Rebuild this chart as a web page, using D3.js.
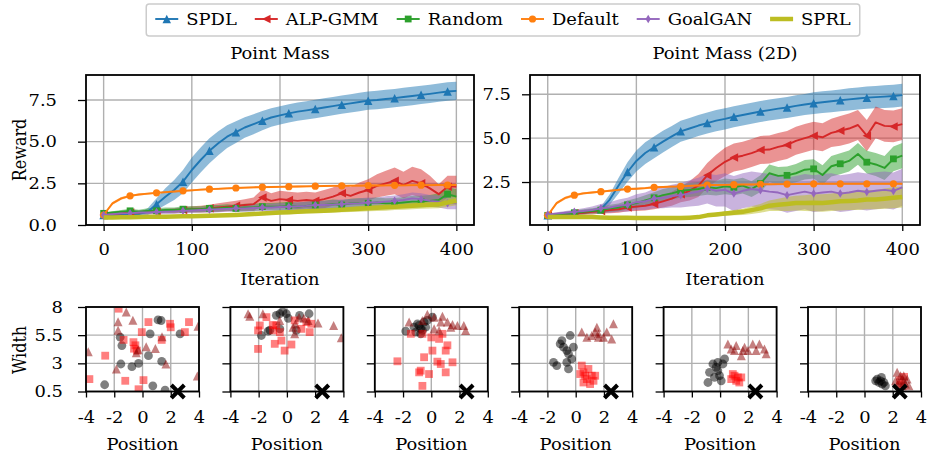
<!DOCTYPE html>
<html>
<head>
<meta charset="utf-8">
<script src="https://cdn.jsdelivr.net/npm/d3@7/dist/d3.min.js"></script>
<style>
  html, body { margin: 0; padding: 0; background: #fff; }
  svg { display: block; }
  text { font-family: "DejaVu Serif", "Liberation Serif", serif; fill: #000; }
</style>
</head>
<body>
<svg id="chart" width="928" height="458"></svg>
<script>
// ---------------- data ----------------
const iterations = d3.range(0, 401, 10);
const methods = ["SPDL", "ALP-GMM", "Random", "Default", "GoalGAN", "SPRL"];
const methodColors = ["#1f77b4", "#d62728", "#2ca02c", "#ff7f0e", "#9467bd", "#bcbd22"];
const methodMarkers = ["triangleUp", "triangleLeft", "square", "circle", "thinDiamond", null];

const iterTicks = [0, 100, 200, 300, 400];
const rewardTicksPM = [0, 2.5, 5, 7.5];
const rewardTicks2D = [2.5, 5, 7.5];
const positionTicks = [-4, -2, 0, 2, 4];
const widthTicks = [0.5, 3, 5.5, 8];
const panelTitles = ["Point Mass", "Point Mass (2D)"];

// Point Mass: mean reward and band half-width, every 10 iterations
const pmSpdlMean = [0.60,0.60,0.60,0.62,0.65,0.80,1.25,1.70,2.10,2.60,3.30,3.90,4.45,4.90,5.30,5.57,5.85,6.05,6.26,6.45,6.58,6.70,6.80,6.88,6.96,7.05,7.13,7.22,7.30,7.38,7.46,7.50,7.56,7.61,7.68,7.74,7.81,7.87,7.94,8.01,8.05];
const pmSpdlStd  = [0.05,0.05,0.05,0.06,0.08,0.20,0.35,0.50,0.60,0.70,0.75,0.75,0.75,0.72,0.68,0.65,0.62,0.60,0.58,0.56,0.55,0.55,0.55,0.55,0.55,0.55,0.55,0.55,0.55,0.55,0.55,0.55,0.55,0.55,0.55,0.55,0.55,0.55,0.55,0.55,0.55];
const pmAlpMean  = [0.60,0.65,0.70,0.75,0.75,0.80,0.80,0.85,0.85,0.90,0.95,0.95,1.00,1.05,1.10,1.15,1.20,1.25,1.65,1.45,1.55,1.50,1.45,1.50,1.45,1.55,1.70,1.90,1.75,1.95,2.10,2.35,2.50,2.65,2.40,2.65,2.50,2.20,1.85,2.30,2.30];
const pmAlpStd   = [0.05,0.05,0.06,0.08,0.10,0.10,0.12,0.12,0.15,0.15,0.18,0.20,0.22,0.25,0.28,0.30,0.35,0.40,0.50,0.45,0.50,0.50,0.50,0.50,0.50,0.55,0.55,0.60,0.55,0.60,0.65,0.70,0.75,0.80,0.80,0.85,0.85,0.75,0.60,0.65,0.65];
const pmRandMean = [0.70,0.75,0.80,0.85,0.80,0.85,0.85,0.90,0.90,0.95,0.95,0.95,1.00,1.00,1.05,1.00,1.05,1.05,1.10,1.10,1.10,1.15,1.10,1.15,1.20,1.20,1.25,1.20,1.30,1.30,1.30,1.35,1.30,1.30,1.35,1.40,1.40,1.45,1.50,1.85,1.70];
const pmRandStd  = [0.05,0.08,0.10,0.12,0.12,0.15,0.15,0.15,0.15,0.18,0.18,0.18,0.20,0.20,0.20,0.20,0.22,0.22,0.22,0.22,0.25,0.25,0.25,0.25,0.25,0.25,0.28,0.28,0.28,0.30,0.30,0.30,0.30,0.32,0.32,0.35,0.35,0.35,0.40,0.45,0.45];
const pmDefMean  = [0.60,1.30,1.60,1.75,1.83,1.88,1.93,1.97,2.01,2.05,2.08,2.12,2.15,2.17,2.20,2.22,2.24,2.26,2.27,2.28,2.29,2.30,2.31,2.32,2.33,2.34,2.35,2.35,2.36,2.36,2.37,2.37,2.38,2.38,2.38,2.39,2.39,2.39,2.40,2.40,2.40];
const pmDefStd   = [0.02,0.08,0.08,0.07,0.06,0.06,0.06,0.06,0.06,0.06,0.06,0.06,0.06,0.06,0.06,0.06,0.06,0.06,0.06,0.06,0.06,0.06,0.06,0.06,0.06,0.06,0.06,0.06,0.06,0.06,0.06,0.06,0.06,0.06,0.06,0.06,0.06,0.06,0.06,0.06,0.06];
const pmGanMean  = [0.60,0.65,0.70,0.70,0.75,0.75,0.78,0.80,0.82,0.85,0.87,0.90,0.92,0.95,0.97,1.00,1.00,1.02,1.05,1.05,1.08,1.10,1.12,1.15,1.20,1.20,1.22,1.25,1.28,1.30,1.35,1.35,1.40,1.45,1.50,1.60,1.55,1.45,1.40,1.30,1.30];
const pmGanStd   = [0.05,0.08,0.10,0.10,0.12,0.12,0.12,0.15,0.15,0.15,0.15,0.15,0.18,0.18,0.18,0.20,0.20,0.20,0.20,0.22,0.22,0.22,0.25,0.25,0.25,0.25,0.28,0.28,0.28,0.30,0.30,0.30,0.32,0.32,0.35,0.35,0.35,0.35,0.35,0.35,0.35];
const pmSprlMean = [0.45,0.45,0.46,0.47,0.48,0.49,0.50,0.50,0.51,0.52,0.53,0.54,0.56,0.57,0.58,0.60,0.63,0.66,0.69,0.72,0.75,0.77,0.79,0.82,0.84,0.86,0.88,0.91,0.94,0.97,1.00,1.03,1.06,1.10,1.13,1.16,1.20,1.22,1.25,1.35,1.45];
const pmSprlStd  = [0.04,0.04,0.04,0.04,0.05,0.05,0.05,0.05,0.06,0.06,0.06,0.07,0.07,0.08,0.08,0.08,0.09,0.10,0.10,0.10,0.11,0.12,0.12,0.13,0.13,0.14,0.15,0.15,0.16,0.17,0.18,0.19,0.20,0.20,0.21,0.22,0.22,0.23,0.24,0.25,0.26];

// Point Mass (2D)
const p2SpdlMean = [0.60,0.62,0.65,0.70,0.75,0.85,0.95,1.50,2.30,3.07,3.70,4.15,4.48,4.80,5.10,5.39,5.55,5.72,5.86,6.00,6.10,6.22,6.32,6.42,6.52,6.60,6.68,6.75,6.84,6.92,6.99,7.05,7.10,7.16,7.21,7.26,7.31,7.34,7.37,7.40,7.45];
const p2SpdlStd  = [0.05,0.05,0.05,0.06,0.08,0.10,0.15,0.30,0.45,0.55,0.60,0.62,0.62,0.62,0.60,0.60,0.60,0.60,0.60,0.60,0.60,0.60,0.60,0.60,0.60,0.60,0.60,0.60,0.60,0.60,0.62,0.62,0.62,0.62,0.63,0.63,0.64,0.64,0.65,0.65,0.65];
const p2AlpMean  = [0.60,0.65,0.70,0.72,0.75,0.80,0.85,0.90,0.95,1.05,1.10,1.15,1.25,1.40,1.55,1.80,2.00,2.30,2.88,3.30,3.65,3.90,4.00,4.15,4.33,4.35,4.50,4.61,4.85,5.00,5.14,5.05,5.30,5.42,5.55,5.75,5.14,5.90,5.70,5.67,5.80];
const p2AlpStd   = [0.05,0.06,0.08,0.10,0.12,0.15,0.15,0.18,0.20,0.22,0.25,0.28,0.30,0.35,0.40,0.45,0.55,0.65,0.70,0.75,0.80,0.80,0.80,0.80,0.80,0.80,0.80,0.80,0.80,0.80,0.80,0.80,0.80,0.85,0.85,0.85,0.90,0.90,0.90,0.90,0.90];
const p2RandMean = [0.60,0.65,0.70,0.75,0.80,0.85,0.90,1.00,1.05,1.20,1.30,1.45,1.60,1.75,1.85,2.00,2.05,2.10,2.20,2.15,2.25,2.20,2.30,2.10,2.41,3.00,2.85,2.88,3.00,3.20,3.25,2.90,3.40,3.54,3.70,4.10,3.63,3.50,3.30,3.82,4.00];
const p2RandStd  = [0.05,0.08,0.10,0.12,0.15,0.15,0.18,0.20,0.22,0.25,0.28,0.30,0.32,0.35,0.35,0.38,0.40,0.40,0.42,0.42,0.45,0.45,0.45,0.45,0.48,0.50,0.50,0.50,0.52,0.55,0.55,0.55,0.58,0.60,0.60,0.62,0.65,0.65,0.68,0.70,0.72];
const p2DefMean  = [0.60,1.30,1.60,1.75,1.85,1.90,1.95,2.00,2.05,2.10,2.12,2.15,2.20,2.22,2.24,2.25,2.28,2.30,2.33,2.33,2.34,2.35,2.36,2.36,2.37,2.37,2.38,2.38,2.39,2.39,2.40,2.40,2.40,2.40,2.40,2.40,2.40,2.40,2.40,2.40,2.40];
const p2DefStd   = [0.02,0.08,0.08,0.07,0.06,0.06,0.06,0.06,0.06,0.06,0.06,0.06,0.06,0.06,0.06,0.06,0.06,0.06,0.06,0.06,0.06,0.06,0.06,0.06,0.06,0.06,0.06,0.06,0.06,0.06,0.06,0.06,0.06,0.06,0.06,0.06,0.06,0.06,0.06,0.06,0.06];
const p2GanMean  = [0.65,0.70,0.75,0.80,0.85,0.90,1.00,1.05,1.15,1.20,1.35,1.40,1.56,1.60,1.70,1.75,1.85,1.95,2.12,2.00,2.05,1.84,2.00,2.10,2.03,1.95,1.90,1.75,1.85,1.95,1.84,1.90,1.95,1.84,1.90,2.00,1.93,2.00,2.05,1.99,2.20];
const p2GanStd   = [0.05,0.08,0.10,0.12,0.15,0.20,0.25,0.30,0.35,0.40,0.45,0.50,0.55,0.60,0.65,0.70,0.75,0.80,0.85,0.90,0.95,1.00,1.00,1.00,1.00,1.00,1.00,1.00,1.00,1.00,1.05,1.05,1.05,1.05,1.05,1.05,1.05,1.05,1.05,1.05,1.05];
const p2SprlMean = [0.50,0.50,0.50,0.50,0.50,0.50,0.48,0.47,0.46,0.46,0.45,0.45,0.45,0.45,0.45,0.45,0.47,0.50,0.60,0.65,0.70,0.75,0.80,0.90,1.00,1.15,1.20,1.25,1.30,1.30,1.32,1.30,1.35,1.40,1.42,1.45,1.50,1.50,1.55,1.60,1.65];
const p2SprlStd  = [0.04,0.04,0.04,0.04,0.04,0.04,0.04,0.04,0.04,0.04,0.04,0.04,0.04,0.04,0.05,0.05,0.06,0.07,0.08,0.10,0.12,0.15,0.18,0.22,0.25,0.30,0.35,0.40,0.42,0.45,0.48,0.50,0.50,0.52,0.52,0.55,0.55,0.55,0.58,0.60,0.60];

// Sampled contexts (position, width) at six stages of SPDL training
const ctxCircles = [
  [[-2.68,1.1],[-1.58,5.32],[-1.46,4.58],[-1.53,2.94],[-0.75,2.7],[-0.28,3.0],[0.42,3.68],[0.54,5.62],[1.1,6.85],[1.32,6.8],[1.36,3.18],[0.73,1.0],[1.6,0.62],[2.66,5.62]],
  [[-1.81,5.47],[-1.33,5.86],[-0.75,7.26],[-0.5,7.4],[-0.04,7.4],[0.1,7.0],[0.9,7.26],[1.57,7.4],[0.67,5.92],[-1.2,5.95],[-0.5,6.05],[-0.3,7.6]],
  [[-1.81,5.86],[-1.22,6.21],[-0.98,6.51],[-0.75,6.07],[-0.51,6.66],[-0.28,6.81],[0.08,7.1],[-0.75,5.62],[-1.1,5.77],[-0.86,6.36],[-0.4,6.21],[-0.63,5.92]],
  [[-1.57,3.09],[-1.34,2.8],[-0.51,2.5],[-0.63,3.09],[-0.28,3.39],[-0.39,5.47],[-0.98,5.02],[-1.1,4.73],[-0.86,4.43],[-0.63,4.13],[-0.51,3.84],[-0.16,4.43]],
  [[-0.86,1.3],[-0.75,2.2],[-0.51,2.94],[-0.28,2.65],[-0.16,2.35],[-0.04,1.9],[0.08,1.45],[0.2,2.94],[0.32,3.39],[-0.4,1.75],[-0.16,3.09]],
  [[0.9,1.6],[1.14,1.45],[1.26,1.16],[1.38,1.3],[1.02,1.3],[1.48,1.0],[0.79,1.45],[1.2,1.75]]
];
const ctxSquares = [
  [[-1.69,7.85],[-3.76,1.6],[-2.64,3.68],[-1.22,1.45],[0.07,1.51],[-0.64,4.88],[-0.4,4.13],[-0.5,4.6],[0.42,6.66],[1.36,5.08],[1.95,6.51],[3.29,6.66],[3.0,5.77],[-0.05,5.77],[-1.34,5.08],[-0.28,0.7],[2.0,6.2],[-0.6,4.3]],
  [[-2.04,4.28],[-1.92,6.36],[-2.04,5.92],[-0.98,5.92],[-0.5,5.77],[-0.39,5.02],[-0.86,4.73],[-0.16,4.13],[0.32,4.67],[-0.75,6.36],[1.38,6.66],[1.61,5.77],[1.02,6.06],[-1.45,7.1],[0.55,6.81],[1.73,6.51],[-1.0,6.4]],
  [[-2.4,3.18],[-0.75,2.35],[-0.63,1.0],[-0.16,2.05],[-0.51,3.54],[0.08,4.13],[0.43,3.15],[0.67,2.94],[1.02,2.2],[1.02,4.13],[1.14,4.6],[1.5,3.09],[0.55,5.17],[-1.45,5.62],[-0.63,5.62],[0.79,5.62],[-0.86,2.2],[0.0,5.3]],
  [[0.43,2.8],[0.55,2.2],[0.79,1.6],[1.02,1.16],[1.14,1.9],[0.67,1.9],[0.32,2.05],[1.38,1.9],[0.9,2.5],[1.26,1.45],[0.55,1.3]],
  [[1.02,1.9],[1.14,1.45],[1.36,1.3],[1.26,1.75],[0.79,1.6],[1.5,1.75],[0.9,2.05]],
  [[2.5,1.5],[2.8,1.8],[2.6,1.1]]
];
const ctxTriangles = [
  [[-1.73,6.68],[-1.15,7.56],[-0.68,6.82],[-1.73,5.94],[-1.85,2.5],[-3.84,4.03],[3.93,6.3],[3.88,1.88],[-0.44,3.94],[0.26,4.47],[0.91,4.32],[1.38,5.35],[1.66,2.94],[-0.3,4.2]],
  [[-2.75,7.4],[-2.63,7.17],[-0.51,6.81],[0.43,6.21],[0.86,7.1],[0.55,5.62],[1.5,6.8],[2.2,6.57],[3.31,6.36],[3.85,5.26],[-1.7,7.4],[1.2,7.0],[0.6,6.5]],
  [[-1.57,6.66],[-0.28,7.35],[0.2,7.1],[0.79,7.17],[1.14,6.66],[1.5,6.45],[1.85,6.36],[2.3,6.36],[2.43,5.92],[0.55,5.92],[0.2,6.07],[-0.63,6.81],[0.67,6.66],[1.38,6.21]],
  [[0.43,5.77],[0.79,5.32],[1.14,5.47],[1.5,6.21],[1.61,5.62],[1.38,5.77],[1.97,5.32],[2.2,5.77],[2.67,6.51],[2.55,5.17],[1.61,5.32]],
  [[0.55,4.72],[0.79,4.28],[1.14,4.58],[1.5,3.68],[1.73,4.43],[1.97,4.13],[2.31,4.72],[2.55,4.13],[2.78,4.72],[3.14,4.28],[3.26,3.84],[1.61,4.13],[1.02,4.13]],
  [[2.31,2.2],[2.55,1.9],[2.78,1.45],[3.02,1.6],[2.9,1.16],[3.14,1.0],[2.67,1.0],[2.43,1.3],[2.2,1.45],[2.78,1.9]]
];
const goalContext = [2.5, 0.5];

// ---------------- drawing ----------------
const svg = d3.select("#chart");
const defs = svg.append("defs");
const FS = 16;      // font size
const SX = 1.12;    // horizontal widening of the lettering

function clipUrl(id, x0, y0, x1, y1) {
  defs.append("clipPath").attr("id", id).append("rect")
    .attr("x", x0).attr("y", y0).attr("width", x1 - x0).attr("height", y1 - y0);
  return `url(#${id})`;
}

function markerPath(type, s) {
  const r = s / 2;
  switch (type) {
    case "triangleUp":   return `M0,${-r}L${r},${r}L${-r},${r}Z`;
    case "triangleLeft": return `M${-r},0L${r},${-r}L${r},${r}Z`;
    case "square":       { const h = r * 0.8; return `M${-h},${-h}H${h}V${h}H${-h}Z`; }
    case "circle":       { const c = r * 0.85; return `M${c},0A${c},${c} 0 1,1 ${-c},0A${c},${c} 0 1,1 ${c},0Z`; }
    case "thinDiamond":  return `M0,${-r}L${r * 0.62},0L0,${r}L${-r * 0.62},0Z`;
  }
  return "";
}

// horizontal label (widened)
function label(g, x, y, str, anchor) {
  return g.append("text").attr("transform", `translate(${x},${y}) scale(${SX},1)`)
    .attr("text-anchor", anchor || "middle").attr("font-size", FS).text(str);
}
// vertical label, widened across the page like the rest of the lettering
function vlabel(g, x, y, str) {
  return g.append("text").attr("transform", `translate(${x},${y}) rotate(-90) scale(1,${SX})`)
    .attr("text-anchor", "middle").attr("font-size", FS).text(str);
}

function styleAxis(g) {
  g.attr("font-family", null).attr("font-size", FS);
  g.select(".domain").remove();
  g.selectAll(".tick line").attr("stroke", "#000").attr("stroke-width", 1.3);
  g.selectAll(".tick text").attr("fill", "#000").each(function () {
    const t = d3.select(this);
    const tx = +t.attr("x") || 0, ty = +t.attr("y") || 0;
    t.attr("x", 0).attr("y", 0).attr("transform", `translate(${tx},${ty}) scale(${SX},1)`);
  });
}

function rewardPanel(cfg) {
  const top = 75, bottom = 225;
  const x = d3.scaleLinear().domain([-20, 420]).range([cfg.x0, cfg.x1]);
  const y = d3.scaleLinear().domain(cfg.yDomain).range([bottom, top]);
  const g = svg.append("g");

  g.append("g").selectAll("line").data(iterTicks).join("line")
    .attr("x1", d => x(d)).attr("x2", d => x(d)).attr("y1", top).attr("y2", bottom)
    .attr("stroke", "#b0b0b0").attr("stroke-width", 1.4);
  g.append("g").selectAll("line").data(cfg.yTicks).join("line")
    .attr("x1", cfg.x0).attr("x2", cfg.x1).attr("y1", d => y(d)).attr("y2", d => y(d))
    .attr("stroke", "#b0b0b0").attr("stroke-width", 1.4);

  const plot = g.append("g").attr("clip-path", clipUrl(cfg.id, cfg.x0, top, cfg.x1, bottom));
  const rows = cfg.series.map(s => s.mean.map((m, i) => ({ t: iterations[i], m, lo: m - s.std[i], hi: m + s.std[i] })));

  const band = d3.area().x(d => x(d.t)).y0(d => y(d.lo)).y1(d => y(d.hi));
  rows.forEach((r, k) => {
    plot.append("path").datum(r).attr("d", band)
      .attr("fill", methodColors[k]).attr("fill-opacity", 0.5).attr("stroke", "none");
  });
  const line = d3.line().x(d => x(d.t)).y(d => y(d.m));
  rows.forEach((r, k) => {
    plot.append("path").datum(r).attr("d", line)
      .attr("fill", "none").attr("stroke", methodColors[k])
      .attr("stroke-width", k === 5 ? 4.5 : 1.9).attr("stroke-linejoin", "round");
    if (methodMarkers[k]) {
      plot.append("g").selectAll("path").data(r.filter((d, i) => i % 3 === 0)).join("path")
        .attr("transform", d => `translate(${x(d.t)},${y(d.m)})`)
        .attr("d", markerPath(methodMarkers[k], 8.5))
        .attr("fill", methodColors[k]);
    }
  });

  g.append("rect").attr("x", cfg.x0).attr("y", top).attr("width", cfg.x1 - cfg.x0).attr("height", bottom - top)
    .attr("fill", "none").attr("stroke", "#000").attr("stroke-width", 1.8);

  g.append("g").attr("transform", `translate(0,${bottom})`)
    .call(d3.axisBottom(x).tickValues(iterTicks).tickSize(6).tickPadding(13).tickFormat(d3.format("d")))
    .call(styleAxis);
  g.append("g").attr("transform", `translate(${cfg.x0},0)`)
    .call(d3.axisLeft(y).tickValues(cfg.yTicks).tickSize(8).tickPadding(cfg.yPad).tickFormat(d3.format(".1f")))
    .call(styleAxis);

  const cx = (cfg.x0 + cfg.x1) / 2;
  label(g, cx, 59, cfg.title);
  label(g, cx, 285, "Iteration");
  if (cfg.yLabel) vlabel(g, 26, 150, cfg.yLabel);
}

rewardPanel({
  id: "clipPM", x0: 86, x1: 474, yDomain: [0, 9.0], yTicks: rewardTicksPM, yPad: 21,
  title: panelTitles[0], yLabel: "Reward",
  series: [
    { mean: pmSpdlMean, std: pmSpdlStd }, { mean: pmAlpMean, std: pmAlpStd },
    { mean: pmRandMean, std: pmRandStd }, { mean: pmDefMean, std: pmDefStd },
    { mean: pmGanMean, std: pmGanStd },   { mean: pmSprlMean, std: pmSprlStd }
  ]
});
rewardPanel({
  id: "clip2D", x0: 530, x1: 920, yDomain: [0.05, 8.6], yTicks: rewardTicks2D, yPad: 11,
  title: panelTitles[1], yLabel: null,
  series: [
    { mean: p2SpdlMean, std: p2SpdlStd }, { mean: p2AlpMean, std: p2AlpStd },
    { mean: p2RandMean, std: p2RandStd }, { mean: p2DefMean, std: p2DefStd },
    { mean: p2GanMean, std: p2GanStd },   { mean: p2SprlMean, std: p2SprlStd }
  ]
});

// context panels
function contextPanel(i) {
  const x0 = 86 + i * 144.4, x1 = x0 + 113, top = 307, bottom = 391.5;
  const x = d3.scaleLinear().domain([-4, 4]).range([x0, x1]);
  const y = d3.scaleLinear().domain([0.5, 8]).range([bottom, top]);
  const g = svg.append("g");

  g.append("g").selectAll("line").data(positionTicks).join("line")
    .attr("x1", d => x(d)).attr("x2", d => x(d)).attr("y1", top).attr("y2", bottom)
    .attr("stroke", "#b0b0b0").attr("stroke-width", 1.4);
  g.append("g").selectAll("line").data(widthTicks).join("line")
    .attr("x1", x0).attr("x2", x1).attr("y1", d => y(d)).attr("y2", d => y(d))
    .attr("stroke", "#b0b0b0").attr("stroke-width", 1.4);

  const plot = g.append("g").attr("clip-path", clipUrl("ctx" + i, x0, top, x1, bottom));
  plot.append("g").selectAll("circle").data(ctxCircles[i]).join("circle")
    .attr("cx", d => x(d[0])).attr("cy", d => y(d[1])).attr("r", 4.4)
    .attr("fill", "#000").attr("fill-opacity", 0.5);
  plot.append("g").selectAll("rect").data(ctxSquares[i]).join("rect")
    .attr("x", d => x(d[0]) - 3.9).attr("y", d => y(d[1]) - 3.9).attr("width", 7.8).attr("height", 7.8)
    .attr("fill", "#ff0000").attr("fill-opacity", 0.5);
  plot.append("g").selectAll("path").data(ctxTriangles[i]).join("path")
    .attr("transform", d => `translate(${x(d[0])},${y(d[1])})`)
    .attr("d", markerPath("triangleUp", 9))
    .attr("fill", "#8b0000").attr("fill-opacity", 0.5);

  g.append("rect").attr("x", x0).attr("y", top).attr("width", x1 - x0).attr("height", bottom - top)
    .attr("fill", "none").attr("stroke", "#000").attr("stroke-width", 1.8);

  // goal context
  const gx = x(goalContext[0]), gy = y(goalContext[1]), h = 6.5;
  g.append("path")
    .attr("d", `M${gx - h},${gy - h}L${gx + h},${gy + h}M${gx - h},${gy + h}L${gx + h},${gy - h}`)
    .attr("stroke", "#000").attr("stroke-width", 4).attr("fill", "none");

  g.append("g").attr("transform", `translate(0,${bottom})`)
    .call(d3.axisBottom(x).tickValues(positionTicks).tickSize(6).tickPadding(14).tickFormat(d => String(d)))
    .call(styleAxis);
  g.append("g").attr("transform", `translate(${x0},0)`)
    .call(d3.axisLeft(y).tickValues(widthTicks).tickSize(8).tickPadding(15).tickFormat(d => i === 0 ? String(d) : ""))
    .call(styleAxis);

  label(g, (x0 + x1) / 2, 450, "Position");
  if (i === 0) vlabel(g, 26, 350, "Width");
}
d3.range(6).forEach(contextPanel);

// legend, centred over the plotting area
const legend = svg.append("g");
const legendBox = legend.append("rect").attr("y", 4).attr("height", 32).attr("rx", 3)
  .attr("fill", "#fff").attr("stroke", "#cccccc").attr("stroke-width", 1.5);
const items = legend.append("g");
let cursor = 0;
methods.forEach((name, k) => {
  const it = items.append("g").attr("transform", `translate(${cursor},0)`);
  it.append("line").attr("x1", 0).attr("x2", 23).attr("y1", 19).attr("y2", 19)
    .attr("stroke", methodColors[k]).attr("stroke-width", k === 5 ? 4.5 : 1.9);
  if (methodMarkers[k]) {
    it.append("path").attr("transform", "translate(11.5,19)")
      .attr("d", markerPath(methodMarkers[k], 8.5)).attr("fill", methodColors[k]);
  }
  const t = label(it, 31, 24.5, name, "start");
  cursor += 31 + t.node().getComputedTextLength() * SX + 18;
});
const contentW = cursor - 18;
const lx = 503 - contentW / 2;
items.attr("transform", `translate(${lx},0)`);
legendBox.attr("x", lx - 9).attr("width", contentW + 18);
</script>
</body>
</html>
